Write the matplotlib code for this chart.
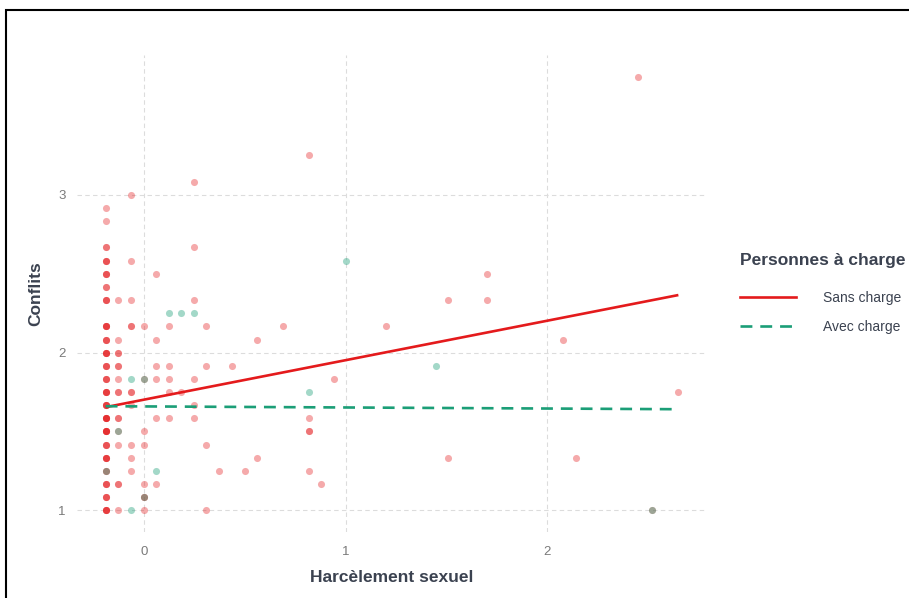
import numpy as np
import matplotlib.pyplot as plt
from matplotlib.patches import Rectangle
from matplotlib.lines import Line2D

plt.rcParams['font.family'] = ['Liberation Sans', 'DejaVu Sans']

# Sans charge : x, y, nombre de répondants au même point
sans_x = [-0.19] * 22 + [-0.127] * 11 + [-0.065] * 9 + [0.0] * 7 + [0.06] * 6 \
    + [0.125] * 5 + [0.185, 0.25, 0.25, 0.25, 0.25, 0.25, 0.25] \
    + [0.31, 0.31, 0.31, 0.31, 0.374, 0.436, 0.5, 0.563, 0.563, 0.69,
       0.82, 0.82, 0.82, 0.82, 0.88, 0.94, 1.2, 1.51, 1.51, 1.7, 1.7,
       2.08, 2.14, 2.45, 2.52, 2.65]
sans_y = [1.0, 1.083, 1.167, 1.25, 1.333, 1.417, 1.5, 1.583, 1.667, 1.75, 1.833,
          1.917, 2.0, 2.083, 2.167, 2.333, 2.417, 2.5, 2.583, 2.667, 2.833, 2.917] \
    + [2.333, 2.083, 2.0, 1.917, 1.833, 1.75, 1.583, 1.5, 1.417, 1.167, 1.0] \
    + [3.0, 2.583, 2.333, 2.167, 1.75, 1.667, 1.417, 1.333, 1.25] \
    + [2.167, 1.833, 1.5, 1.417, 1.167, 1.083, 1.0] \
    + [2.5, 2.083, 1.917, 1.833, 1.583, 1.167] \
    + [2.167, 1.917, 1.833, 1.75, 1.583] \
    + [1.75, 3.083, 2.667, 2.333, 1.833, 1.667, 1.583] \
    + [2.167, 1.917, 1.417, 1.0, 1.25, 1.917, 1.25, 2.083, 1.333, 2.167,
       3.25, 1.583, 1.5, 1.25, 1.167, 1.833, 2.167, 2.333, 1.333, 2.5, 2.333,
       2.083, 1.333, 3.75, 1.0, 1.75]
sans_n = [4, 3, 3, 2, 4, 3, 5, 5, 4, 4, 3, 3, 4, 3, 4, 3, 2, 3, 3, 2, 1, 1] \
    + [1, 1, 2, 2, 1, 2, 2, 1, 1, 2, 1] \
    + [1, 1, 1, 2, 2, 1, 1, 1, 1] \
    + [1, 1, 1, 1, 1, 2, 1] \
    + [1, 1, 1, 1, 1, 1] \
    + [1, 1, 1, 1, 1] \
    + [1, 1, 1, 1, 1, 1, 1] \
    + [1, 1, 1, 1, 1, 1, 1, 1, 1, 1,
       1, 1, 2, 1, 1, 1, 1, 1, 1, 1, 1,
       1, 1, 1, 1, 1]

# Avec charge
avec_x = [-0.19, -0.127, -0.065, -0.065, 0.0, 0.0, 0.06, 0.125, 0.185, 0.25,
          0.82, 1.0, 1.45, 2.52]
avec_y = [1.25, 1.5, 1.833, 1.0, 1.833, 1.083, 1.25, 2.25, 2.25, 2.25,
          1.75, 2.583, 1.917, 1.0]

# droites de régression
line_x = [-0.19, 2.65]
sans_line_y = [1.654, 2.365]
avec_line_y = [1.66, 1.641]

red = '#E41A1C'
teal = '#1B9E77'
txt = '#3b4250'

fig = plt.figure(figsize=(9.09, 5.98), dpi=100)
ax = fig.add_axes([0.0847, 0.1104, 0.6931, 0.7977])

ax.scatter(np.repeat(sans_x, sans_n), np.repeat(sans_y, sans_n),
           s=26, color=red, alpha=0.37, linewidths=0, zorder=2)
ax.scatter(avec_x, avec_y, s=26, color=teal, alpha=0.4, linewidths=0, zorder=2)

ax.plot(line_x, sans_line_y, color=red, lw=1.9, solid_capstyle='butt', zorder=3)
ax.plot(line_x, avec_line_y, color=teal, lw=1.9, dashes=(4.5, 3), zorder=4)

ax.set_xlim(-0.332, 2.792)
ax.set_ylim(0.8625, 3.8875)
ax.set_xticks([0, 1, 2])
ax.set_yticks([1, 2, 3])
ax.grid(True, color='#dcdcdc', lw=0.8, ls=(0, (4, 3)))
ax.set_axisbelow(True)
for s in ax.spines.values():
    s.set_visible(False)
ax.tick_params(length=0, labelsize=9.5, labelcolor='#7a7a7a', pad=10)
ax.tick_params(axis='y', pad=8)

ax.set_xlabel('Harcèlement sexuel', fontsize=12.5, fontweight='bold', color=txt, labelpad=9)
ax.set_ylabel('Conflits', fontsize=12.5, fontweight='bold', color=txt, labelpad=11)

handles = [Line2D([], [], color=red, lw=1.9),
           Line2D([], [], color=teal, lw=1.9, dashes=(4.5, 3))]
leg = fig.legend(handles, ['Sans charge', 'Avec charge'],
                 title='Personnes à charge', loc='upper left',
                 bbox_to_anchor=(740 / 909, 1 - 253 / 598),
                 frameon=False, borderpad=0, borderaxespad=0,
                 handlelength=4.0, handletextpad=1.95, labelspacing=1.08,
                 fontsize=10, alignment='left')
leg.get_title().set_fontsize(12.5)
leg.get_title().set_fontweight('bold')
leg.get_title().set_color(txt)
leg._legend_box.sep = 16.5
for t in leg.get_texts():
    t.set_color(txt)

# cadre noir autour de la figure
fig.patches.append(Rectangle((6 / 909, -0.2), 1.3, 1 - 10 / 598 + 0.2,
                             transform=fig.transFigure, fill=False,
                             edgecolor='black', lw=1.5))

fig.savefig('out.png', dpi=100)
